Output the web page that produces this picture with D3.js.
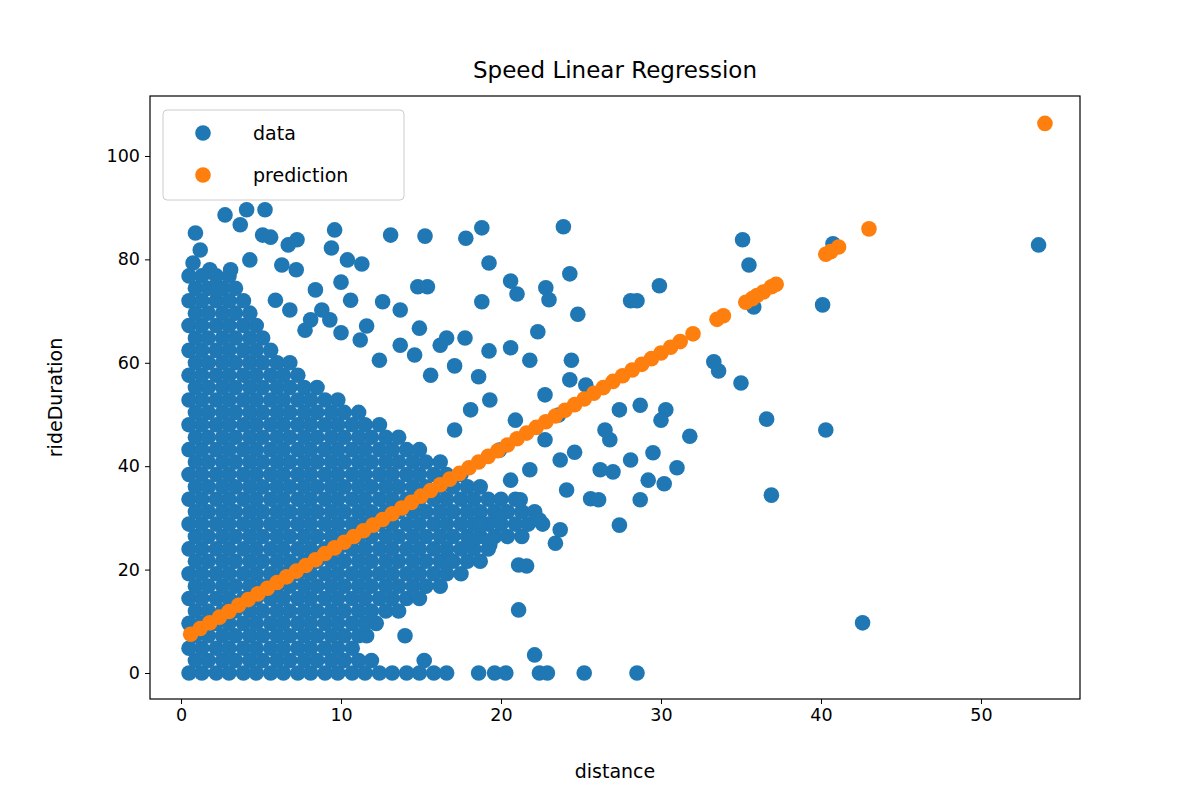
<!DOCTYPE html>
<html><head><meta charset="utf-8">
<script src="https://cdn.jsdelivr.net/npm/d3@7"></script>
<style>body{margin:0;background:#fff}text{font-family:"DejaVu Sans",sans-serif}</style>
</head><body><svg id="c" width="1200" height="800"></svg>
<script>
// dense core rows: [y, [x values]]
const coreRows = [
[0,[0.5,1.3,2.2,3,3.9,4.7,5.6,6.4,7.3,8.1,9,9.8,10.7,11.5,12.4,13.2,14.1,14.9,15.8,16.6,18.6,19.6,20.3,22.4,22.9,25.2,28.5]],
[2.4,[0.9,1.7,2.6,3.4,4.3,5.1,6,6.8,7.7,8.5,9.4,10.2,11.1,11.9,15.2]],
[4.8,[0.5,1.3,2.2,3,3.9,4.7,5.6,6.4,7.3,8.1,9,9.8,10.7]],
[7.2,[0.9,1.7,2.6,3.4,4.3,5.1,6,6.8,7.7,8.5,9.4,10.2,11.1,11.6,14]],
[9.6,[0.5,1.3,2.2,3,3.9,4.7,5.6,6.4,7.3,8.1,9,9.8,10.7,11.5,12.2]],
[12,[0.9,1.7,2.6,3.4,4.3,5.1,6,6.8,7.7,8.5,9.4,10.2,11.1,11.9,12.8,13.6]],
[14.4,[0.5,1.3,2.2,3,3.9,4.7,5.6,6.4,7.3,8.1,9,9.8,10.7,11.5,12.4,13.2,14.1,14.9]],
[16.8,[0.9,1.7,2.6,3.4,4.3,5.1,6,6.8,7.7,8.5,9.4,10.2,11.1,11.9,12.8,13.6,14.5,15.3,16.2]],
[19.2,[0.5,1.3,2.2,3,3.9,4.7,5.6,6.4,7.3,8.1,9,9.8,10.7,11.5,12.4,13.2,14.1,14.9,15.8,16.6,17.5]],
[21.6,[0.9,1.7,2.6,3.4,4.3,5.1,6,6.8,7.7,8.5,9.4,10.2,11.1,11.9,12.8,13.6,14.5,15.3,16.2,17,17.9,18.7]],
[24,[0.5,1.3,2.2,3,3.9,4.7,5.6,6.4,7.3,8.1,9,9.8,10.7,11.5,12.4,13.2,14.1,14.9,15.8,16.6,17.5,18.3,19.2]],
[26.4,[0.9,1.7,2.6,3.4,4.3,5.1,6,6.8,7.7,8.5,9.4,10.2,11.1,11.9,12.8,13.6,14.5,15.3,16.2,17,17.9,18.7,19.6,20.4,21.3]],
[28.8,[0.5,1.3,2.2,3,3.9,4.7,5.6,6.4,7.3,8.1,9,9.8,10.7,11.5,12.4,13.2,14.1,14.9,15.8,16.6,17.5,18.3,19.2,20,20.9,21.7,22.6]],
[31.2,[0.9,1.7,2.6,3.4,4.3,5.1,6,6.8,7.7,8.5,9.4,10.2,11.1,11.9,12.8,13.6,14.5,15.3,16.2,17,17.9,18.7,19.6,20.4,21.3,22.1]],
[33.6,[0.5,1.3,2.2,3,3.9,4.7,5.6,6.4,7.3,8.1,9,9.8,10.7,11.5,12.4,13.2,14.1,14.9,15.8,16.6,17.5,18.3,19.2,20,20.9]],
[36,[0.9,1.7,2.6,3.4,4.3,5.1,6,6.8,7.7,8.5,9.4,10.2,11.1,11.9,12.8,13.6,14.5,15.3,16.2,17,17.9,18.7]],
[38.4,[0.5,1.3,2.2,3,3.9,4.7,5.6,6.4,7.3,8.1,9,9.8,10.7,11.5,12.4,13.2,14.1,14.9,15.8,16.6,17.5]],
[40.8,[0.9,1.7,2.6,3.4,4.3,5.1,6,6.8,7.7,8.5,9.4,10.2,11.1,11.9,12.8,13.6,14.5,15.3,16.2]],
[43.2,[0.5,1.3,2.2,3,3.9,4.7,5.6,6.4,7.3,8.1,9,9.8,10.7,11.5,12.4,13.2,14.1,14.9]],
[45.6,[0.9,1.7,2.6,3.4,4.3,5.1,6,6.8,7.7,8.5,9.4,10.2,11.1,11.9,12.8,13.6]],
[48,[0.5,1.3,2.2,3,3.9,4.7,5.6,6.4,7.3,8.1,9,9.8,10.7,11.5,12.4]],
[50.4,[0.9,1.7,2.6,3.4,4.3,5.1,6,6.8,7.7,8.5,9.4,10.2,11.1]],
[52.8,[0.5,1.3,2.2,3,3.9,4.7,5.6,6.4,7.3,8.1,9,9.8]],
[55.2,[0.9,1.7,2.6,3.4,4.3,5.1,6,6.8,7.7,8.5]],
[57.6,[0.5,1.3,2.2,3,3.9,4.7,5.6,6.4,7.3]],
[60,[0.9,1.7,2.6,3.4,4.3,5.1,6,6.8]],
[62.4,[0.5,1.3,2.2,3,3.9,4.7,5.6]],
[64.8,[0.9,1.7,2.6,3.4,4.3,5.1]],
[67.2,[0.5,1.3,2.2,3,3.9,4.7]],
[69.6,[0.9,1.7,2.6,3.4,4.3]],
[72,[0.5,1.3,2.2,3,3.9]],
[74.4,[0.9,1.7,2.6,3.4]],
[76.8,[0.5,1.3,2.2,3]]
];
// scattered data points [distance, rideDuration]
const sparseX = [53.6,42.6,40.75,40.1,40.3,36.6,36.9,35.1,35.5,35.8,35,33.3,33.6,31.8,29.9,30.2,31,29.5,28.5,28.1,27,24.8,24.3,23.9,22.8,23,22.3,20.6,21,19.25,18.8,18.8,19.25,17.8,17.75,16.6,15.25,15.4,14.8,14.9,13.1,13.7,12.6,11.3,10.4,9.6,9.4,10,11.6,10,21.1,21.6,21.1,22.1,19.9,21.2,22.4,23.4,24.1,25.6,26.1,24.6,26.5,25.3,24.4,27.4,28.7,30.3,30,29.2,26.2,26.8,28.1,23.7,22.75,21.8,20.6,19.9,20.9,19.3,18.1,17.1,18.6,20.6,21.8,22.75,23.6,24.3,18.1,16.8,18.7,19.3,23.7,27.4,28.7,17.1,16.2,15.6,14.6,13.7,12.4,11.2,10.6,9.3,8.4,7.75,6.8,7.25,7.2,5.6,5.25,4.1,2.75,3.7,0.9,0.75,1.2,1.8,2.3,3.1,4.3,5.1,6.3,6.7,5.9,8.1,8.8];
const sparseY = [82.8,9.7,83,71.2,47,49.1,34.4,83.8,78.9,70.8,56.1,60.2,58.4,45.8,74.9,36.6,39.7,42.6,72,72,38.9,69.4,77.2,86.3,74.5,72.2,66,75.8,73.3,79.3,86.1,71.8,62.3,84.1,64.8,64.8,84.5,74.7,74.7,66.7,84.7,70.2,71.8,79.1,79.9,85.7,82.2,75.6,67.1,65.8,20.9,20.7,12.2,3.5,30,33.5,29.6,25.1,35.4,33.7,33.5,42.7,47,55.7,60.5,50.9,51.8,50.9,48.9,37.3,39.3,45.1,41.2,41.2,45.1,39.3,37.3,43.1,48.9,52.8,50.9,47,57.3,62.9,60.5,53.8,49.9,56.7,25.7,21.9,28.6,24.8,27.7,28.6,33.5,59.4,63.4,57.6,61.5,63.4,60.5,64.4,72.1,68.3,74.1,66.3,70.2,83.8,78,84.3,89.6,89.6,88.6,86.7,85.1,79.3,81.8,78,74.1,78,79.9,84.7,78.9,82.8,72.1,68.3,70.2];
const predX = [0.6,1.2,1.8,2.4,3,3.6,4.2,4.8,5.4,6,6.6,7.2,7.8,8.4,9,9.6,10.2,10.8,11.4,12,12.6,13.2,13.8,14.4,15,15.6,16.2,16.8,17.4,18,18.6,19.2,19.8,20.4,21,21.6,22.2,22.8,23.4,24,24.6,25.2,25.8,26.4,27,27.6,28.2,28.8,29.4,30,30.6,31.2,32,33.5,33.9,35.3,35.7,36,36.4,36.9,37.2,40.3,40.6,41.1,43,54];
const predY = [7.5,8.6,9.7,10.8,11.9,13.1,14.2,15.3,16.4,17.5,18.6,19.7,20.8,21.9,23.1,24.2,25.3,26.4,27.5,28.6,29.7,30.8,31.9,33,34.2,35.3,36.4,37.5,38.6,39.7,40.8,41.9,43,44.1,45.3,46.4,47.5,48.6,49.7,50.8,51.9,53,54.1,55.2,56.4,57.5,58.6,59.7,60.8,61.9,63,64.1,65.6,68.4,69.1,71.7,72.4,73,73.7,74.7,75.2,81,81.5,82.4,85.9,106.3];
const xTicks = [0,10,20,30,40,50];
const yTicks = [0,20,40,60,80,100];

const data = [];
coreRows.forEach(([y,xs]) => xs.forEach(x => data.push([x,y])));
sparseX.forEach((x,i) => data.push([x, sparseY[i]]));
const pred = predX.map((x,i) => [x, predY[i]]);

const svg = d3.select("#c");
const L=150,R=1080,T=96,B=699;
const x = d3.scaleLinear().domain([-1.94,56.19]).range([L,R]);
const y = d3.scaleLinear().domain([-5.03,111.6]).range([B,T]);
const BLUE="#1f77b4", ORANGE="#ff7f0e", r=7.8;

const g = svg.append("g");
g.append("clipPath").attr("id","cp").append("rect").attr("x",L).attr("y",T).attr("width",R-L).attr("height",B-T);
const pg = g.append("g").attr("clip-path","url(#cp)");
pg.selectAll(".d").data(data).enter().append("circle").attr("cx",d=>x(d[0])).attr("cy",d=>y(d[1])).attr("r",r).attr("fill",BLUE);
pg.selectAll(".p").data(pred).enter().append("circle").attr("cx",d=>x(d[0])).attr("cy",d=>y(d[1])).attr("r",r).attr("fill",ORANGE);

const xa = svg.append("g").attr("transform",`translate(0,${B})`).call(d3.axisBottom(x).tickValues(xTicks).tickSize(5).tickPadding(5));
const ya = svg.append("g").attr("transform",`translate(${L},0)`).call(d3.axisLeft(y).tickValues(yTicks).tickSize(5).tickPadding(5));
[xa,ya].forEach(a=>{a.select(".domain").remove();a.selectAll("text").attr("font-size",17.5).attr("fill","#000").style("font-family","DejaVu Sans");a.selectAll("line").attr("stroke","#000");});
svg.append("rect").attr("x",L).attr("y",T).attr("width",R-L).attr("height",B-T).attr("fill","none").attr("stroke","#000").attr("stroke-width",1.2);

svg.append("text").attr("x",(L+R)/2).attr("y",78).attr("text-anchor","middle").attr("font-size",23).text("Speed Linear Regression");
svg.append("text").attr("x",(L+R)/2).attr("y",778).attr("text-anchor","middle").attr("font-size",19).text("distance");
svg.append("text").attr("transform",`translate(62,${(T+B)/2}) rotate(-90)`).attr("text-anchor","middle").attr("font-size",19).text("rideDuration");

const lg = svg.append("g");
lg.append("rect").attr("x",163).attr("y",110).attr("width",241).attr("height",90).attr("rx",4).attr("fill","#fff").attr("fill-opacity",0.8).attr("stroke","#ccc");
[["data",BLUE,133],["prediction",ORANGE,175]].forEach(([t,c,yy])=>{
  lg.append("circle").attr("cx",203).attr("cy",yy).attr("r",r).attr("fill",c);
  lg.append("text").attr("x",253).attr("y",yy+7).attr("font-size",19).text(t);
});
</script></body></html>
